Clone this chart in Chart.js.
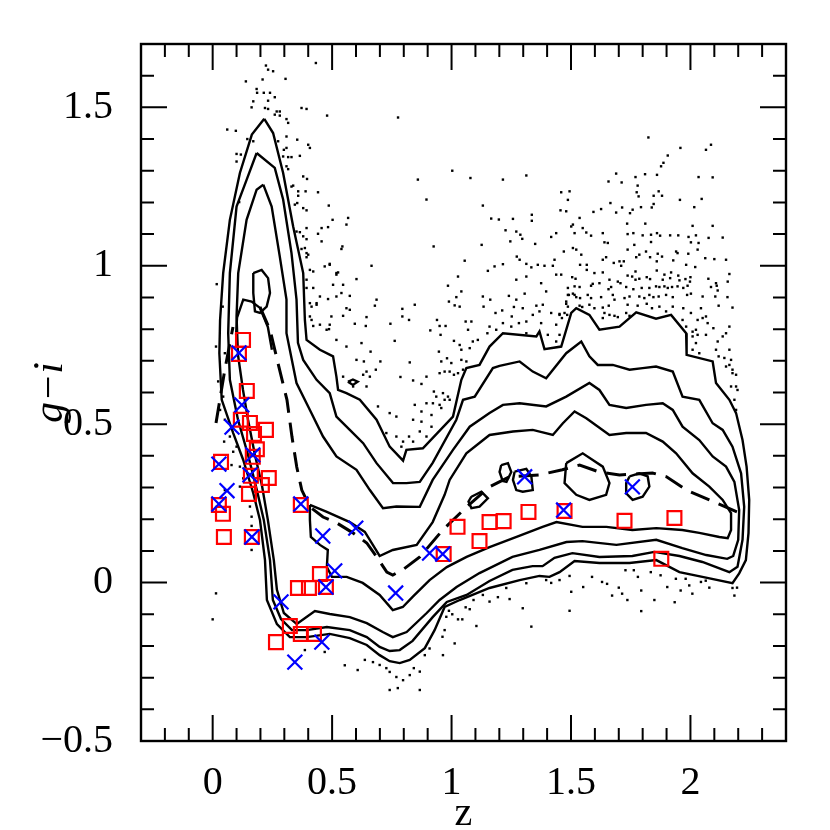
<!DOCTYPE html>
<html>
<head>
<meta charset="utf-8">
<script src="https://cdn.jsdelivr.net/npm/chart.js@4.4.1/dist/chart.umd.min.js"></script>
<style>
  html, body { margin: 0; padding: 0; background: #fff; }
  canvas { display: block; }
</style>
</head>
<body>
<canvas id="chart" width="830" height="830"></canvas>
<script>
// axis ticks
const xTicks = [0, 0.5, 1, 1.5, 2];
const xTickLabels = ['0', '0.5', '1', '1.5', '2'];
const yTicks = [-0.5, 0, 0.5, 1, 1.5];
const yTickLabels = ['\u22120.5', '0', '0.5', '1', '1.5'];

// density contours, [z, g-i], outermost first
const contour1 = [[0.216,1.464],[0.253,1.419],[0.295,1.293],[0.337,1.124],[0.379,0.977],[0.386,0.829],[0.393,0.766],[0.449,0.735],[0.504,0.714],[0.518,0.650],[0.525,0.608],[0.560,0.598],[0.616,0.577],[0.686,0.514],[0.741,0.429],[0.797,0.385],[0.811,0.419],[0.880,0.424],[1.006,0.524],[1.041,0.640],[1.062,0.677],[1.117,0.687],[1.159,0.745],[1.215,0.787],[1.355,0.777],[1.368,0.793],[1.389,0.737],[1.459,0.745],[1.501,0.851],[1.522,0.866],[1.577,0.845],[1.619,0.798],[1.703,0.808],[1.773,0.853],[1.856,0.833],[1.919,0.845],[1.982,0.787],[1.984,0.719],[2.093,0.698],[2.107,0.630],[2.163,0.577],[2.191,0.535],[2.218,0.450],[2.235,0.366],[2.246,0.261],[2.243,0.156],[2.232,0.071],[2.204,0.029],[2.176,-0.002],[2.050,0.018],[1.954,0.033],[1.857,0.071],[1.745,0.062],[1.619,0.062],[1.515,0.068],[1.452,0.033],[1.410,0.018],[1.368,0.021],[1.285,0.008],[1.159,-0.017],[1.034,-0.055],[0.971,-0.077],[0.929,-0.150],[0.888,-0.207],[0.825,-0.244],[0.783,-0.254],[0.741,-0.248],[0.699,-0.229],[0.645,-0.197],[0.574,-0.175],[0.490,-0.162],[0.394,-0.172],[0.323,-0.172],[0.269,-0.131],[0.227,-0.055],[0.219,0.071],[0.198,0.198],[0.170,0.282],[0.128,0.387],[0.086,0.472],[0.038,0.577],[0.028,0.724],[0.031,0.829],[0.044,0.977],[0.072,1.145],[0.114,1.293],[0.164,1.414],[0.216,1.464]];
const contour2 = [[0.184,1.356],[0.260,1.309],[0.295,1.209],[0.330,1.040],[0.351,0.893],[0.357,0.757],[0.379,0.703],[0.435,0.640],[0.490,0.598],[0.518,0.524],[0.574,0.482],[0.630,0.440],[0.686,0.377],[0.755,0.314],[0.811,0.314],[0.867,0.318],[0.921,0.378],[1.020,0.514],[1.048,0.577],[1.097,0.587],[1.173,0.677],[1.201,0.684],[1.285,0.698],[1.340,0.666],[1.396,0.645],[1.480,0.724],[1.543,0.761],[1.577,0.714],[1.612,0.687],[1.675,0.687],[1.745,0.672],[1.800,0.677],[1.856,0.682],[1.926,0.666],[1.967,0.587],[2.037,0.577],[2.093,0.503],[2.135,0.482],[2.176,0.429],[2.212,0.345],[2.225,0.239],[2.218,0.135],[2.197,0.050],[2.163,0.033],[2.050,0.065],[1.954,0.084],[1.849,0.097],[1.757,0.084],[1.619,0.081],[1.506,0.093],[1.431,0.078],[1.381,0.052],[1.339,0.052],[1.255,0.040],[1.159,0.005],[1.063,-0.039],[0.980,-0.061],[0.921,-0.109],[0.837,-0.184],[0.783,-0.213],[0.741,-0.216],[0.699,-0.203],[0.645,-0.172],[0.574,-0.150],[0.478,-0.140],[0.394,-0.150],[0.332,-0.150],[0.286,-0.115],[0.252,-0.055],[0.240,0.071],[0.214,0.198],[0.185,0.292],[0.148,0.403],[0.106,0.514],[0.072,0.640],[0.065,0.787],[0.072,0.977],[0.100,1.187],[0.142,1.271],[0.184,1.356]];
const contour3 = [[0.212,1.256],[0.247,1.187],[0.281,1.029],[0.309,0.893],[0.309,0.787],[0.351,0.630],[0.407,0.545],[0.462,0.461],[0.518,0.398],[0.602,0.356],[0.658,0.292],[0.713,0.235],[0.769,0.240],[0.867,0.239],[0.921,0.324],[1.006,0.419],[1.076,0.492],[1.159,0.535],[1.215,0.561],[1.285,0.566],[1.396,0.556],[1.480,0.587],[1.577,0.630],[1.619,0.608],[1.661,0.561],[1.731,0.551],[1.814,0.561],[1.884,0.566],[1.926,0.545],[1.967,0.492],[2.037,0.450],[2.093,0.398],[2.149,0.366],[2.184,0.318],[2.204,0.229],[2.200,0.135],[2.179,0.084],[2.154,0.075],[2.066,0.087],[1.966,0.109],[1.857,0.135],[1.690,0.119],[1.548,0.131],[1.481,0.128],[1.368,0.103],[1.255,0.081],[1.117,0.030],[1.021,-0.014],[0.950,-0.055],[0.896,-0.096],[0.812,-0.156],[0.754,-0.172],[0.712,-0.156],[0.645,-0.128],[0.574,-0.109],[0.490,-0.099],[0.428,-0.090],[0.352,-0.131],[0.298,-0.096],[0.269,-0.023],[0.256,0.071],[0.231,0.198],[0.206,0.308],[0.177,0.403],[0.148,0.514],[0.127,0.608],[0.106,0.719],[0.100,0.840],[0.107,0.977],[0.142,1.145],[0.184,1.240],[0.212,1.256]];
const contour4 = [[0.407,0.245],[0.478,0.223],[0.574,0.191],[0.637,0.160],[0.679,0.109],[0.699,0.084],[0.754,0.103],[0.854,0.119],[0.921,0.191],[0.971,0.277],[0.992,0.324],[1.062,0.408],[1.159,0.466],[1.257,0.477],[1.340,0.482],[1.424,0.466],[1.466,0.503],[1.515,0.540],[1.564,0.519],[1.661,0.466],[1.731,0.472],[1.814,0.472],[1.884,0.445],[1.940,0.408],[2.009,0.345],[2.079,0.303],[2.135,0.261],[2.170,0.219],[2.170,0.166],[2.156,0.140],[2.121,0.144],[2.037,0.157],[1.966,0.166],[1.857,0.172],[1.757,0.166],[1.648,0.176],[1.548,0.176],[1.439,0.191],[1.381,0.176],[1.272,0.144],[1.159,0.112],[1.063,0.081],[0.980,0.049],[0.908,0.008],[0.837,-0.045],[0.796,-0.077],[0.754,-0.087],[0.699,-0.039],[0.628,-0.001],[0.561,0.018],[0.499,0.018],[0.478,0.049],[0.482,0.103],[0.449,0.119],[0.411,0.144],[0.407,0.198],[0.407,0.245]];
const contour4Cap = [[0.098,0.782],[0.102,0.836],[0.128,0.893],[0.163,0.887],[0.198,0.867],[0.231,0.807],[0.248,0.735]];
const islandA = [[0.170,0.977],[0.205,0.987],[0.232,0.961],[0.240,0.914],[0.226,0.871],[0.198,0.851],[0.177,0.856],[0.170,0.914],[0.170,0.977]];
const islandB = [[1.083,0.271],[1.125,0.287],[1.152,0.266],[1.117,0.240],[1.083,0.235],[1.071,0.256],[1.083,0.271]];
const islandC = [[1.208,0.371],[1.236,0.377],[1.250,0.349],[1.230,0.318],[1.214,0.321],[1.201,0.349],[1.208,0.371]];
const islandD = [[1.264,0.350],[1.313,0.359],[1.334,0.335],[1.340,0.292],[1.298,0.287],[1.271,0.292],[1.257,0.324],[1.264,0.350]];
const islandE = [[1.480,0.377],[1.549,0.408],[1.591,0.387],[1.633,0.366],[1.661,0.314],[1.647,0.277],[1.577,0.261],[1.522,0.277],[1.473,0.314],[1.480,0.377]];
const islandF = [[1.745,0.335],[1.786,0.345],[1.821,0.335],[1.828,0.303],[1.800,0.271],[1.758,0.261],[1.731,0.282],[1.731,0.314],[1.745,0.335]];
const islandG = [[0.566,0.634],[0.587,0.641],[0.607,0.634],[0.587,0.624],[0.566,0.634]];

// median relation (dashed)
const medianLow = [[0.014,0.504],[0.051,0.672],[0.085,0.807]];
const medianMain = [[0.198,0.870],[0.240,0.798],[0.273,0.694],[0.311,0.577],[0.332,0.460],[0.352,0.365],[0.373,0.292],[0.407,0.239],[0.462,0.207],[0.520,0.188],[0.587,0.157],[0.645,0.125],[0.687,0.081],[0.729,0.033],[0.754,0.024],[0.795,0.040],[0.867,0.081],[0.963,0.166],[1.063,0.239],[1.159,0.302],[1.243,0.334],[1.368,0.340],[1.464,0.356],[1.536,0.371],[1.619,0.349],[1.703,0.340],[1.841,0.346],[1.900,0.334],[1.983,0.292],[2.079,0.261],[2.204,0.220]];

// red squares and blue crosses
const squares = [[0.127,0.766],[0.110,0.722],[0.143,0.605],[0.118,0.514],[0.156,0.504],[0.173,0.469],[0.223,0.482],[0.185,0.421],[0.168,0.397],[0.035,0.381],[0.160,0.337],[0.235,0.330],[0.206,0.308],[0.152,0.280],[0.026,0.245],[0.043,0.217],[0.047,0.144],[0.164,0.144],[0.369,0.245],[0.449,0.027],[0.357,-0.017],[0.403,-0.017],[0.474,-0.014],[0.323,-0.137],[0.369,-0.162],[0.424,-0.162],[0.265,-0.188],[1.025,0.176],[1.159,0.191],[1.218,0.194],[1.322,0.223],[1.473,0.226],[1.117,0.131],[0.967,0.090],[1.724,0.195],[1.933,0.204],[1.878,0.075]];
const crosses = [[0.110,0.725],[0.122,0.561],[0.081,0.491],[0.168,0.403],[0.026,0.374],[0.156,0.340],[0.060,0.290],[0.026,0.248],[0.164,0.144],[0.369,0.248],[0.461,0.147],[0.599,0.172],[0.511,0.037],[0.474,-0.014],[0.766,-0.033],[0.286,-0.061],[0.457,-0.188],[0.344,-0.251],[0.908,0.093],[0.963,0.090],[1.306,0.334],[1.469,0.229],[1.757,0.302]];

// individual objects outside the outer contour
const dotsPeak = [[0.223,1.632],[0.232,1.619],[0.253,1.614],[0.432,1.640],[0.139,1.582],[0.209,1.588],[0.305,1.590],[0.184,1.558],[0.186,1.546],[0.214,1.546],[0.240,1.546],[0.260,1.532],[0.170,1.519],[0.232,1.521],[0.163,1.500],[0.219,1.498],[0.232,1.495],[0.268,1.487],[0.281,1.487],[0.372,1.498],[0.393,1.495],[0.479,1.474],[0.776,1.468],[0.260,1.477],[0.281,1.474],[0.309,1.463],[0.316,1.451],[0.061,1.430],[0.097,1.426],[0.309,1.408],[0.354,1.398],[0.400,1.382],[0.407,1.372],[0.145,1.400],[0.170,1.393],[0.274,1.393],[0.309,1.372],[0.298,1.366],[0.295,1.345],[0.316,1.343],[0.330,1.343],[0.365,1.347],[0.100,1.353],[0.118,1.351],[0.100,1.329],[0.309,1.314],[0.316,1.305],[0.379,1.282],[0.395,1.274],[0.330,1.250],[0.337,1.253],[0.441,1.232],[0.358,1.235],[0.358,1.221],[0.389,1.235],[0.344,1.193],[0.354,1.198],[0.379,1.182],[0.393,1.175],[0.486,1.190],[0.111,1.201],[0.502,1.145],[0.567,1.151],[0.560,1.130],[0.456,1.119],[0.441,1.101],[0.483,1.122],[0.351,1.108],[0.365,1.106],[0.393,1.119],[0.379,1.093],[0.393,1.084],[0.456,1.077],[0.543,1.061],[0.539,1.053],[0.372,1.053],[0.386,1.056],[0.393,1.040],[0.393,1.027],[0.407,0.987],[0.421,0.982],[0.469,0.998],[0.490,1.006],[0.665,1.000],[0.518,0.977],[0.525,0.979],[0.393,0.956],[0.421,0.930],[0.393,0.930],[0.504,0.940],[0.546,0.940],[0.602,0.958],[0.449,0.903],[0.483,0.895],[0.518,0.903],[0.539,0.914],[0.574,0.905],[0.407,0.882],[0.414,0.871],[0.435,0.877],[0.560,0.866],[0.574,0.861],[0.497,0.840],[0.546,0.842],[0.407,0.840],[0.414,0.829],[0.595,0.817],[0.421,0.810],[0.449,0.814],[0.490,0.814],[0.487,0.800],[0.017,0.942],[0.042,0.871],[0.400,1.035],[0.490,1.003],[0.518,0.972],[0.435,0.882],[0.477,0.798],[0.518,0.766],[0.560,0.745],[0.602,0.703],[0.546,0.650],[0.588,0.619],[0.574,0.635]];
const dotsMid = [[0.679,0.874],[0.686,0.893],[0.644,0.838],[0.641,0.810],[0.623,0.756],[0.744,0.817],[0.794,0.864],[0.794,0.840],[0.822,0.829],[0.846,0.877],[0.911,0.796],[0.939,0.829],[0.950,0.810],[0.975,0.810],[0.954,0.782],[0.762,0.763],[0.989,0.887],[1.020,0.901],[1.013,0.875],[1.034,0.871],[1.041,0.919],[1.059,0.824],[1.069,0.798],[1.083,0.824],[1.010,0.763],[1.034,0.750],[1.041,0.735],[1.076,0.740],[1.089,0.761],[1.110,0.766],[1.131,0.903],[1.134,0.871],[1.162,0.893],[1.184,0.851],[1.212,0.859],[1.159,0.808],[1.150,0.787],[1.187,0.798],[1.215,0.819],[1.240,0.905],[1.271,0.893],[1.261,0.870],[1.298,0.866],[1.306,0.912],[1.252,0.840],[1.282,0.819],[1.313,0.824],[1.340,0.845],[1.355,0.874],[1.382,0.877],[1.368,0.856],[1.375,0.819],[1.417,0.851],[1.452,0.848],[1.462,0.835],[1.484,0.845],[1.491,0.908],[1.508,0.912],[1.480,0.880],[1.396,0.919],[1.438,0.814],[1.452,0.782],[1.438,0.761],[1.403,0.782],[1.313,0.787],[1.250,0.808],[0.633,0.698],[0.644,0.666],[0.630,0.656],[0.658,0.650],[0.644,0.619],[0.683,0.672],[0.702,0.698],[0.661,0.729],[0.825,0.695],[0.786,0.649],[0.839,0.638],[0.874,0.627],[0.895,0.650],[0.947,0.729],[0.957,0.698],[0.981,0.708],[0.999,0.693],[1.010,0.656],[0.992,0.666],[0.971,0.666],[0.950,0.661],[1.041,0.703],[1.048,0.672],[1.062,0.698],[1.027,0.661],[0.926,0.603],[0.936,0.587],[0.964,0.598],[0.985,0.587],[0.971,0.577],[0.950,0.561],[0.922,0.566],[0.895,0.566],[0.846,0.561],[0.874,0.540],[0.916,0.529],[0.957,0.551],[0.992,0.577],[0.692,0.556],[0.741,0.535],[0.769,0.524],[0.839,0.514],[0.874,0.508],[0.916,0.492],[0.727,0.472],[0.769,0.461],[0.822,0.461],[0.867,0.477],[0.895,0.461],[0.797,0.445],[0.839,0.445],[0.790,0.429]];
const dotsUpper = [[1.824,1.405],[1.958,1.372],[2.086,1.382],[2.065,1.366],[1.905,1.348],[1.887,1.325],[1.877,1.314],[0.859,1.272],[1.003,1.300],[1.079,1.277],[1.215,1.272],[1.313,1.285],[1.689,1.291],[1.770,1.280],[1.810,1.289],[1.860,1.287],[2.034,1.280],[2.093,1.279],[0.895,1.209],[1.131,1.190],[1.166,1.149],[1.198,1.146],[1.257,1.148],[1.336,1.161],[1.336,1.142],[1.226,1.112],[1.271,1.108],[1.288,1.098],[1.296,1.085],[1.417,1.091],[1.438,1.103],[0.925,1.061],[1.126,1.066],[1.246,1.077],[1.350,1.069],[1.055,1.016],[1.273,1.029],[1.285,1.019],[1.313,1.006],[1.334,0.995],[1.361,1.003],[1.389,1.000],[1.424,1.000],[1.431,1.019],[0.985,0.937],[1.027,0.966],[1.152,0.984],[1.180,0.998],[1.215,1.005],[1.271,0.956],[1.313,0.966],[1.375,0.945],[1.438,0.972],[2.107,0.735],[2.163,0.735],[2.170,0.703],[2.149,0.682],[2.176,0.661],[2.191,0.619],[2.184,0.577],[2.009,0.735],[2.037,0.724]];
const dotsUpperRight = [[1.657,1.266],[1.712,1.263],[1.779,1.253],[1.459,1.232],[1.494,1.235],[1.775,1.232],[1.783,1.219],[1.846,1.221],[1.867,1.235],[1.881,1.221],[1.487,1.208],[1.456,1.175],[1.480,1.172],[1.665,1.198],[1.594,1.170],[1.626,1.179],[1.689,1.168],[1.714,1.184],[1.747,1.166],[1.758,1.177],[1.793,1.185],[1.838,1.184],[1.846,1.195],[1.956,1.208],[2.047,1.211],[2.016,1.185],[1.536,1.151],[1.508,1.130],[1.501,1.124],[1.549,1.119],[1.735,1.133],[1.811,1.133],[2.009,1.126],[2.093,1.126],[1.515,1.103],[1.564,1.105],[1.584,1.095],[1.633,1.103],[1.737,1.100],[1.761,1.103],[1.800,1.096],[1.835,1.098],[1.860,1.103],[1.873,1.095],[1.915,1.096],[1.949,1.096],[1.992,1.091],[2.023,1.096],[2.076,1.088],[2.135,1.089],[1.640,1.074],[1.654,1.072],[1.835,1.075],[2.002,1.074],[2.034,1.072],[1.508,1.056],[1.522,1.051],[1.470,1.045],[1.543,1.035],[1.737,1.051],[1.765,1.066],[1.814,1.045],[1.786,1.035],[1.863,1.038],[1.881,1.029],[1.940,1.045],[1.946,1.040],[1.991,1.038],[2.030,1.051],[2.062,1.024],[2.100,1.021],[2.149,1.019],[1.633,1.019],[1.647,1.027],[1.703,1.014],[1.721,1.014],[1.710,1.000],[1.679,1.009],[1.566,1.003],[1.538,1.003],[1.773,1.027],[1.831,1.027],[1.859,1.014],[1.928,1.017],[1.982,1.003],[2.020,0.996],[1.566,0.987],[1.633,0.979],[1.770,0.982],[1.859,0.985],[1.919,0.979],[2.163,0.974],[1.459,0.972],[1.505,0.964],[1.519,0.959],[1.598,0.977],[1.661,0.956],[1.696,0.950],[1.707,0.945],[1.737,0.969],[1.756,0.966],[1.770,0.956],[1.786,0.959],[1.817,0.964],[1.831,0.958],[1.891,0.972],[1.884,0.956],[1.915,0.961],[1.949,0.969],[1.954,0.954],[1.979,0.958],[2.000,0.964],[1.998,0.950],[2.075,0.959],[2.107,0.945],[2.156,0.950],[1.487,0.930],[1.515,0.935],[1.536,0.933],[1.584,0.937],[1.591,0.943],[1.619,0.945],[1.657,0.926],[1.668,0.933],[1.731,0.933],[1.761,0.926],[1.796,0.930],[1.828,0.930],[1.856,0.935],[1.870,0.933],[1.891,0.935],[1.905,0.930],[1.923,0.933],[1.946,0.935],[1.970,0.930],[1.988,0.937],[2.086,0.933],[2.110,0.937],[2.114,0.922],[1.487,0.908],[1.515,0.908],[1.522,0.901],[1.538,0.898],[1.570,0.908],[1.584,0.898],[1.626,0.901],[1.675,0.908],[1.682,0.893],[1.724,0.898],[1.745,0.903],[1.786,0.903],[1.807,0.898],[1.828,0.908],[1.845,0.901],[1.867,0.903],[1.898,0.908],[1.926,0.901],[1.986,0.908],[2.002,0.912],[2.051,0.903],[2.104,0.903],[2.155,0.901],[1.480,0.887],[1.536,0.874],[1.547,0.870],[1.577,0.877],[1.598,0.866],[1.633,0.868],[1.658,0.874],[1.737,0.877],[1.779,0.874],[1.817,0.880],[1.839,0.866],[1.870,0.871],[1.926,0.871],[1.970,0.866],[2.002,0.851],[2.044,0.866],[2.118,0.874],[2.176,0.868],[1.640,0.851],[1.661,0.845],[1.682,0.842],[1.696,0.838],[1.731,0.851],[1.745,0.842],[1.633,0.835],[1.898,0.856],[1.967,0.829],[1.982,0.808],[2.030,0.829],[2.051,0.835],[2.072,0.819],[2.065,0.840],[2.096,0.803],[2.135,0.777],[2.149,0.787],[2.163,0.808],[2.009,0.792],[2.009,0.777],[2.023,0.798],[2.030,0.782],[2.065,0.782],[1.487,0.871],[1.473,0.851],[1.452,0.845]];
const dotsRight = [[2.118,0.714],[2.176,0.672],[2.191,0.656],[2.170,0.619],[2.197,0.608],[2.191,0.545],[2.142,0.709],[2.163,0.687],[2.114,0.761],[2.023,0.756]];
const dotsLower = [[0.671,-0.251],[0.699,-0.260],[0.727,-0.270],[0.741,-0.282],[0.769,-0.298],[0.797,-0.308],[0.741,-0.339],[0.775,-0.333],[0.825,-0.292],[0.867,-0.281],[0.867,-0.339],[0.842,-0.270],[0.888,-0.229],[0.908,-0.208],[0.962,-0.171],[0.964,-0.229],[0.971,-0.150],[1.013,-0.192],[0.978,-0.108],[0.989,-0.089],[1.003,-0.100],[1.027,-0.116],[1.045,-0.116],[1.059,-0.078],[1.076,-0.084],[1.104,-0.137],[1.092,-0.055],[1.131,-0.039],[1.159,-0.060],[1.194,-0.046],[1.229,-0.017],[1.243,-0.052],[1.298,-0.081],[1.334,-0.139],[1.313,-0.002],[1.396,0.008],[1.417,-0.001],[1.494,0.021],[1.501,-0.029],[1.494,-0.089],[1.452,0.008],[1.551,-0.014],[1.588,0.018],[1.630,0.002],[1.651,-0.004],[1.672,-0.041],[1.700,-0.016],[1.714,-0.035],[1.728,0.039],[1.763,0.039],[1.780,0.018],[1.794,-0.025],[1.794,-0.090],[1.834,0.033],[1.875,0.023],[1.903,-0.014],[1.934,-0.062],[1.939,0.012],[1.959,-0.025],[1.980,0.012],[1.995,-0.009],[2.008,-0.035],[2.044,0.002],[2.064,0.006],[2.079,-0.016],[2.176,-0.017],[2.184,-0.041],[2.195,-0.016],[1.736,-0.055],[1.849,-0.055],[0.553,-0.261],[0.607,-0.276],[0.637,-0.244],[0.469,-0.219],[0.386,-0.213]];
const dotsLeft = [[0.014,0.745],[0.051,0.724],[0.023,0.635],[0.044,0.587],[0.031,0.545],[0.051,0.514],[0.072,0.461],[0.100,0.429],[0.048,0.445],[0.086,0.413],[0.079,0.371],[0.114,0.366],[0.128,0.329],[0.114,0.303],[0.051,0.292],[0.156,0.240],[0.163,0.208],[0.163,0.179],[0.163,0.103],[0.014,-0.034],[0.0,-0.116]];

const serif = 'Liberation Serif';
const toXY = arr => arr.map(p => ({ x: p[0], y: p[1] }));

const lineSet = (pts, extra) => Object.assign({
  data: toXY(pts),
  showLine: true,
  borderColor: '#000',
  borderWidth: 2.4,
  pointRadius: 0,
  fill: false,
  tension: 0,
  order: 3
}, extra || {});

const dotSet = pts => ({
  data: toXY(pts),
  showLine: false,
  pointStyle: 'rect',
  pointRadius: 1.7,
  backgroundColor: '#000',
  borderWidth: 0,
  order: 4
});

// inward ticks on all four sides plus the frame
const frameTicks = {
  id: 'frameTicks',
  afterDatasetsDraw(chart) {
    const { ctx, chartArea: a, scales } = chart;
    const xs = scales.x, ys = scales.y;
    ctx.save();
    ctx.strokeStyle = '#000';
    ctx.lineWidth = 2;
    ctx.beginPath();
    for (let k = -2; k <= 23; k++) {
      const px = xs.getPixelForValue(k / 10);
      const len = k % 5 === 0 ? 26 : 13;
      ctx.moveTo(px, a.bottom); ctx.lineTo(px, a.bottom - len);
      ctx.moveTo(px, a.top); ctx.lineTo(px, a.top + len);
    }
    for (let k = -4; k <= 16; k++) {
      const py = ys.getPixelForValue(k / 10);
      const len = k % 5 === 0 ? 26 : 13;
      ctx.moveTo(a.left, py); ctx.lineTo(a.left + len, py);
      ctx.moveTo(a.right, py); ctx.lineTo(a.right - len, py);
    }
    ctx.stroke();
    ctx.lineWidth = 2.4;
    ctx.strokeRect(a.left, a.top, a.right - a.left, a.bottom - a.top);
    ctx.restore();
  }
};

const datasets = [
  { data: toXY(crosses), showLine: false, pointStyle: 'crossRot', pointRadius: 10.5,
    borderColor: '#0000ff', borderWidth: 2.2, backgroundColor: 'transparent', order: 0 },
  { data: toXY(squares), showLine: false, pointStyle: 'rect', pointRadius: 9.8,
    borderColor: '#ff0000', borderWidth: 2.2, backgroundColor: 'transparent', order: 1 },
  lineSet(medianLow, { borderWidth: 3, borderDash: [20, 10], order: 2 }),
  lineSet(medianMain, { borderWidth: 3, borderDash: [20, 10], order: 2 }),
  lineSet(contour1), lineSet(contour2), lineSet(contour3), lineSet(contour4),
  lineSet(contour4Cap), lineSet(islandA), lineSet(islandB), lineSet(islandC),
  lineSet(islandD), lineSet(islandE), lineSet(islandF), lineSet(islandG),
  dotSet(dotsPeak), dotSet(dotsMid), dotSet(dotsUpper), dotSet(dotsUpperRight),
  dotSet(dotsRight), dotSet(dotsLower), dotSet(dotsLeft)
];

new Chart(document.getElementById('chart').getContext('2d'), {
  type: 'scatter',
  data: { datasets },
  options: {
    responsive: false,
    animation: false,
    devicePixelRatio: 1,
    events: [],
    layout: { padding: { top: 44, right: 44, left: 0, bottom: 0 } },
    plugins: { legend: { display: false }, tooltip: { enabled: false } },
    scales: {
      x: {
        type: 'linear',
        min: -0.3,
        max: 2.4,
        grid: { display: false, drawTicks: false },
        border: { display: false },
        afterBuildTicks: s => { s.ticks = xTicks.map(v => ({ value: v })); },
        afterFit: s => { s.height = 89; s.paddingLeft = 0; s.paddingRight = 0; },
        ticks: {
          autoSkip: false,
          maxRotation: 0,
          padding: 18,
          color: '#000',
          font: { family: serif, size: 40 },
          callback: v => xTickLabels[xTicks.indexOf(v)]
        },
        title: {
          display: true,
          text: 'z',
          color: '#000',
          font: { family: serif, size: 40, lineHeight: 0.8 },
          padding: { top: 0, bottom: 0 }
        }
      },
      y: {
        type: 'linear',
        min: -0.5,
        max: 1.7,
        grid: { display: false, drawTicks: false },
        border: { display: false },
        afterBuildTicks: s => { s.ticks = yTicks.map(v => ({ value: v })); },
        afterFit: s => { s.width = 141; s.paddingTop = 0; s.paddingBottom = 0; },
        ticks: {
          autoSkip: false,
          padding: 28,
          color: '#000',
          font: { family: serif, size: 40 },
          callback: v => yTickLabels[yTicks.indexOf(v)]
        },
        title: {
          display: true,
          text: 'g\u2212i',
          color: '#000',
          font: { family: serif, size: 42, style: 'italic', lineHeight: 1 },
          padding: { top: 30, bottom: 0 }
        }
      }
    }
  },
  plugins: [frameTicks]
});
</script>
</body>
</html>
